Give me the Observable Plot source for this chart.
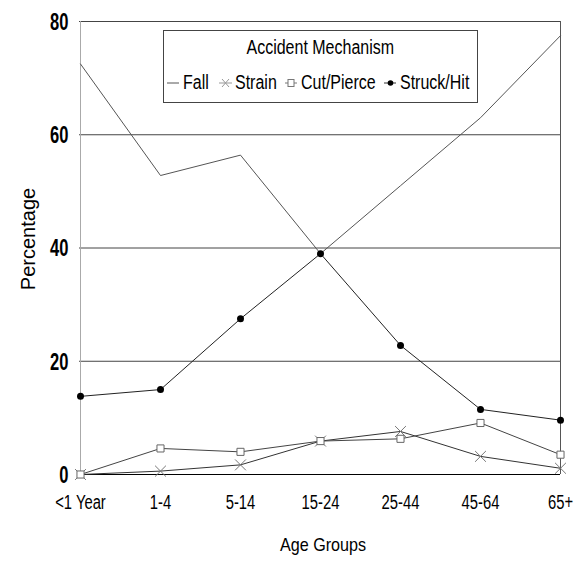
<!DOCTYPE html>
<html><head><meta charset="utf-8">
<script src="https://cdn.jsdelivr.net/npm/d3@7"></script>
<script src="https://cdn.jsdelivr.net/npm/@observablehq/plot@0.6"></script>
<style>
body{margin:0;background:#fff;}
#wrap{position:relative;width:577px;height:568px;}
#legend{position:absolute;left:163px;top:30px;width:313px;height:71px;border:1px solid #444;background:#fff;
 font-family:"Liberation Sans",Arial,sans-serif;font-size:20px;color:#000;}
#legend .t{position:absolute;left:0;right:0;top:5px;text-align:center;}
#legend .t span{display:inline-block;transform:scaleX(0.8);}
#legend .it{position:absolute;top:40px;display:flex;align-items:center;white-space:nowrap;}
#legend .it span{display:inline-block;transform:scaleX(0.8);transform-origin:0 50%;}
</style></head><body>
<div id="wrap"></div>
<script>
const ages = ["<1 Year","1-4","5-14","15-24","25-44","45-64","65+"];
const fall   = [72.5,52.8,56.4,39.0,51.0,63.0,77.5];
const strain = [0,0.6,1.7,5.9,7.6,3.2,1.1];
const cut    = [0,4.6,4.0,5.9,6.3,9.1,3.5];
const struck = [13.8,15.0,27.5,39.0,22.8,11.5,9.6];
const yTicks = [0,20,40,60,80];
const gridLines = [20,40,60,80];

const rows = (vals, s) => ages.map((a,i)=>({age:a, v:vals[i], s}));
const dFall = rows(fall,"Fall"), dStrain = rows(strain,"Strain"), dCut = rows(cut,"Cut/Pierce"), dStruck = rows(struck,"Struck/Hit");

const sans = '"Liberation Sans",Arial,sans-serif';
const plot = Plot.plot({
  width:577, height:568,
  marginLeft:79, marginRight:17, marginTop:21, marginBottom:94,
  style:{fontFamily:sans, background:"#fff"},
  x:{type:"point", domain:ages, padding:0, axis:null},
  y:{domain:[0,80], axis:null},
  marks:[
    Plot.ruleY(gridLines,{stroke:"#444", strokeWidth:1}),
    Plot.ruleX(ages.slice(6),{stroke:"#555", strokeWidth:1}),
    Plot.ruleX(ages.slice(0,1),{stroke:"#aaa", strokeWidth:1}),
    Plot.ruleY([0],{stroke:"#000", strokeWidth:1}),
    Plot.line(dFall,{x:"age", y:"v", stroke:"#555", strokeWidth:1}),
    Plot.line(dStrain,{x:"age", y:"v", stroke:"#333", strokeWidth:1}),
    Plot.line(dCut,{x:"age", y:"v", stroke:"#444", strokeWidth:1}),
    Plot.line(dStruck,{x:"age", y:"v", stroke:"#222", strokeWidth:1}),
    Plot.dot(dStrain,{x:"age", y:"v", symbol:"times", r:5, stroke:"#777", strokeWidth:1}),
    Plot.dot(dCut,{x:"age", y:"v", symbol:"square", r:4, stroke:"#666", fill:"#fff", strokeWidth:1}),
    Plot.dot(dStruck,{x:"age", y:"v", r:3.5, fill:"#000", stroke:null}),
    Plot.text(yTicks,{frameAnchor:"left", y:d=>d, text:d=>String(d), textAnchor:"end", dx:-11, dy:1, fontSize:23, fontWeight:"bold", fill:"#000", className:"ytick"}),
    Plot.text(ages,{x:d=>d, y:()=>0, text:d=>d, dy:28, fontSize:20, fill:"#000", className:"xtick"}),
    Plot.text(["Percentage"],{frameAnchor:"left", textAnchor:"middle", dx:-51, dy:-9, rotate:-90, fontSize:20, fill:"#000"}),
    Plot.text(["Age Groups"],{frameAnchor:"bottom", dy:76, dx:3, fontSize:19, fill:"#000", className:"xlabel"})
  ]
});
const wrap = document.getElementById("wrap");
wrap.appendChild(plot);
// condense the narrow-font texts
function condense(sel, f){
  plot.querySelectorAll(sel+" text").forEach(t=>{
    const w = t.getComputedTextLength();
    t.setAttribute("textLength", (w*f).toFixed(1));
    t.setAttribute("lengthAdjust","spacingAndGlyphs");
  });
}
condense(".ytick", 0.72);
condense(".xtick", 0.74);
condense(".xlabel", 0.85);

const sym = {
  "Fall":'<line x1="0" y1="9" x2="12" y2="9" stroke="#555"/>',
  "Strain":'<line x1="0" y1="9" x2="13" y2="9" stroke="#999"/><path d="M3 5L10 13M10 5L3 13" stroke="#999" fill="none"/>',
  "Cut/Pierce":'<line x1="0" y1="9" x2="12" y2="9" stroke="#777"/><rect x="3" y="5.5" width="6" height="7" stroke="#777" fill="#fff"/>',
  "Struck/Hit":'<line x1="0" y1="9" x2="12" y2="9" stroke="#333"/><circle cx="6.5" cy="9" r="2.8" fill="#000"/>'
};
const series = ["Fall","Strain","Cut/Pierce","Struck/Hit"];
const lefts = [3, 55, 121, 220];
const lg = document.createElement("div");
lg.id = "legend";
lg.innerHTML = '<div class="t"><span>Accident Mechanism</span></div>' +
  series.map((s,i)=>`<div class="it" style="left:${lefts[i]}px"><svg width="14" height="18" style="margin-right:2px">${sym[s]}</svg><span>${s}</span></div>`).join("");
wrap.appendChild(lg);
</script>
</body></html>
